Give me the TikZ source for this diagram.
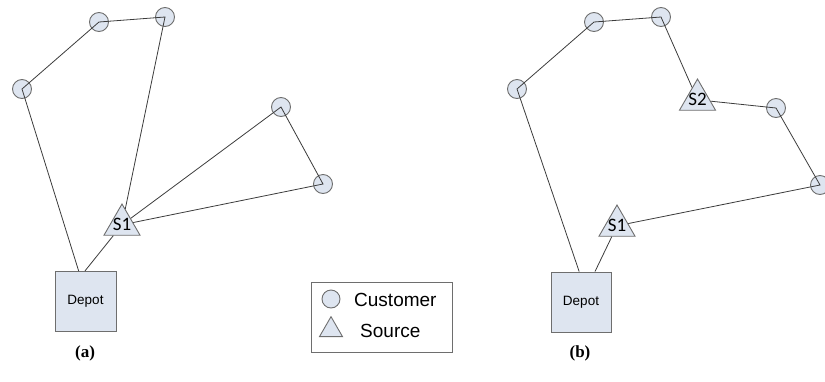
\documentclass[tikz,border=0pt]{standalone}
\usepackage{fontspec}
\setmainfont{Liberation Sans}
\newfontfamily\srcfont{Carlito}
\newfontfamily\capfont{Liberation Serif}
\usetikzlibrary{shapes.geometric,calc}
\definecolor{nodefill}{RGB}{222,229,240}
\definecolor{nodeedge}{RGB}{110,110,110}
\definecolor{routeline}{RGB}{60,60,60}

\begin{document}
\begin{tikzpicture}[x=1pt,y=-1pt,
  customer/.style={circle,draw=nodeedge,fill=nodefill,line width=0.9pt,
    minimum size=19pt,inner sep=0pt},
  source/.style={regular polygon,regular polygon sides=3,draw=nodeedge,
    fill=nodefill,line width=0.9pt,minimum size=41.6pt,inner sep=0pt},
  srctext/.style={font=\srcfont\fontsize{19}{19}\selectfont,inner sep=0pt},
  depotbox/.style={rectangle,draw=nodeedge,fill=nodefill,line width=0.9pt,
    minimum width=61pt,minimum height=60pt,inner sep=0pt,
    font=\fontsize{13.5}{13.5}\selectfont},
  route/.style={draw=routeline,line width=0.8pt},
  caption/.style={font=\capfont\bfseries\fontsize{17}{17}\selectfont},
  legendtext/.style={font=\fontsize{19}{19}\selectfont,anchor=west,inner sep=0pt}
]
\useasboundingbox (0,0) rectangle (825,381);

% ---------------- panel (a) ----------------
\node[customer] (a1) at (22,89) {};
\node[customer] (a2) at (99,22) {};
\node[customer] (a3) at (165,17) {};
\node[customer] (a4) at (281,107) {};
\node[customer] (a5) at (323,184) {};
\node[source] (as1) at (122,224.8) {};
\node[srctext] (as1t) at ([yshift=0.5pt]as1.center) {S1};
\node[depotbox] (adepot) at (85.5,301.5) {Depot};
\coordinate (adl) at ($(adepot.north west)!0.39!(adepot.north east)$);
\coordinate (adr) at ($(adepot.north west)!0.49!(adepot.north east)$);

\draw[route] (adl) -- (a1.center) -- (a2.center) -- (a3.center) -- (as1);
\draw[route] (adr) -- (as1);
\draw[route] (as1) -- (a4.center) -- (a5.center) -- (as1);

\node[caption] (acap) at (85,353) {(a)};

% ---------------- legend ----------------
\node[draw=nodeedge,line width=0.9pt,minimum width=141pt,minimum height=70pt,
  inner sep=0pt] (legend) at (381.5,317) {};
\node[customer,minimum size=18pt] (lc) at (331,299) {};
\node[legendtext] (lct) at (354,300) {Customer};
\node[isosceles triangle,isosceles triangle apex angle=60,shape border rotate=90,
  draw=nodeedge,fill=nodefill,line width=0.9pt,minimum height=20pt,inner sep=0pt]
  (ls) at (331,330) {};
\node[legendtext] (lst) at (360,331) {Source};

% ---------------- panel (b) ----------------
\node[customer] (b1) at (517,89) {};
\node[customer] (b2) at (594,22) {};
\node[customer] (b3) at (661,17) {};
\node[customer] (b4) at (776,108) {};
\node[customer] (b5) at (820,185) {};
\node[source] (bs2) at (697.5,99.8) {};
\node[srctext] (bs2t) at ([yshift=0.5pt]bs2.center) {S2};
\node[source] (bs1) at (617,225.8) {};
\node[srctext] (bs1t) at ([yshift=0.5pt]bs1.center) {S1};
\node[depotbox,minimum width=60pt] (bdepot) at (581,302) {Depot};
\coordinate (bdl) at ($(bdepot.north west)!0.47!(bdepot.north east)$);
\coordinate (bdr) at ($(bdepot.north west)!0.73!(bdepot.north east)$);

\draw[route] (bdl) -- (b1.center) -- (b2.center) -- (b3.center) -- (bs2);
\draw[route] (bs2) -- (b4.center) -- (b5.center) -- (bs1);
\draw[route] (bdr) -- (bs1);

\node[caption] (bcap) at (580,353) {(b)};
\end{tikzpicture}
\end{document}
